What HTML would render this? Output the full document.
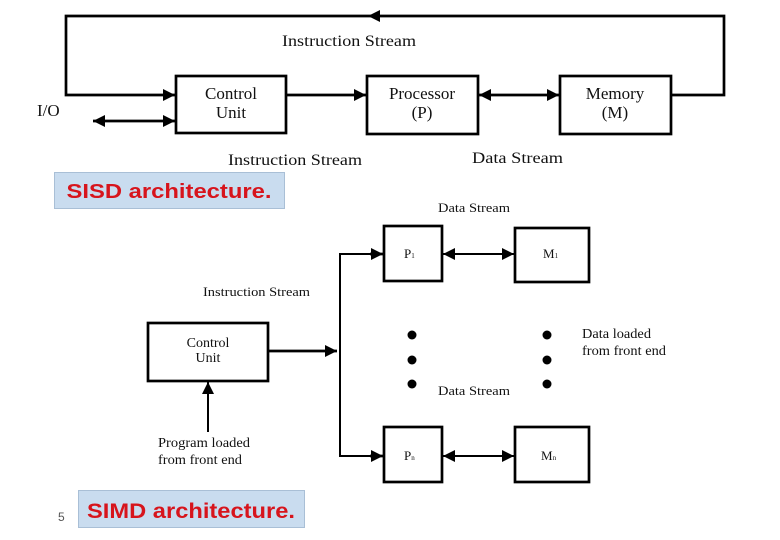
<!DOCTYPE html>
<html><head><meta charset="utf-8"><style>
html,body{margin:0;padding:0;background:#fff;}
svg{display:block;}
.t{font-family:"Liberation Serif",serif;fill:#111;}
.r{font-family:"Liberation Sans",sans-serif;font-weight:bold;fill:#d7141c;}
</style></head><body>
<svg width="780" height="540" viewBox="0 0 780 540" xmlns="http://www.w3.org/2000/svg">
<defs>
<marker id="a" viewBox="0 0 10 10" refX="10" refY="5" markerWidth="12" markerHeight="12" markerUnits="userSpaceOnUse" orient="auto-start-reverse">
<path d="M0,0 L10,5 L0,10 z" fill="#000"/></marker>
</defs>
<g stroke="#000" stroke-width="2.7" fill="none">
<!-- SISD -->
<rect x="176" y="76" width="110" height="57"/>
<rect x="367" y="76" width="111" height="58"/>
<rect x="560" y="76" width="111" height="58"/>
<polyline points="671,95 724,95 724,16 66,16 66,95 175,95" marker-end="url(#a)"/>
<line x1="286" y1="95" x2="366" y2="95" marker-end="url(#a)"/>
<line x1="479" y1="95" x2="559" y2="95" marker-start="url(#a)" marker-end="url(#a)"/>
<line x1="93" y1="121" x2="175" y2="121" marker-start="url(#a)" marker-end="url(#a)"/>
<!-- SIMD -->
<rect x="148" y="323" width="120" height="58"/>
<rect x="384" y="226" width="58" height="55"/>
<rect x="515" y="228" width="74" height="54"/>
<rect x="384" y="427" width="58" height="55"/>
<rect x="515" y="427" width="74" height="55"/>
<line x1="268" y1="351" x2="337" y2="351" marker-end="url(#a)"/>
<polyline points="383,254 340,254 340,456 383,456" stroke-width="2"/>
<line x1="370" y1="254" x2="383" y2="254" marker-end="url(#a)"/>
<line x1="370" y1="456" x2="383" y2="456" marker-end="url(#a)"/>
<line x1="443" y1="254" x2="514" y2="254" stroke-width="2" marker-start="url(#a)" marker-end="url(#a)"/>
<line x1="443" y1="456" x2="514" y2="456" stroke-width="2" marker-start="url(#a)" marker-end="url(#a)"/>
<line x1="208" y1="432" x2="208" y2="382" stroke-width="2" marker-end="url(#a)"/>
</g>
<path d="M368,16 L380,10 L380,22 z" fill="#000"/>
<g fill="#000">
<circle cx="412" cy="335" r="4.5"/><circle cx="412" cy="360" r="4.5"/><circle cx="412" cy="384" r="4.5"/>
<circle cx="547" cy="335" r="4.5"/><circle cx="547" cy="360" r="4.5"/><circle cx="547" cy="384" r="4.5"/>
</g>
<g class="t" font-size="16">
<text x="282" y="46" textLength="134" lengthAdjust="spacingAndGlyphs">Instruction Stream</text>
<text x="231" y="99" text-anchor="middle" font-size="17">Control</text>
<text x="231" y="118" text-anchor="middle" font-size="17">Unit</text>
<text x="422" y="99" text-anchor="middle" font-size="17">Processor</text>
<text x="422" y="118" text-anchor="middle" font-size="17">(P)</text>
<text x="615" y="99" text-anchor="middle" font-size="17">Memory</text>
<text x="615" y="118" text-anchor="middle" font-size="17">(M)</text>
<text x="37" y="116" font-size="17">I/O</text>
<text x="228" y="165" textLength="134" lengthAdjust="spacingAndGlyphs">Instruction Stream</text>
<text x="472" y="163" textLength="91" lengthAdjust="spacingAndGlyphs">Data Stream</text>
</g>
<g class="t" font-size="13">
<text x="438" y="212" textLength="72" lengthAdjust="spacingAndGlyphs">Data Stream</text>
<text x="203" y="296" textLength="107" lengthAdjust="spacingAndGlyphs">Instruction Stream</text>
<text x="208" y="347" text-anchor="middle" font-size="14">Control</text>
<text x="208" y="362" text-anchor="middle" font-size="14">Unit</text>
<text x="404" y="258">P<tspan font-size="7">1</tspan></text>
<text x="543" y="258">M<tspan font-size="7">1</tspan></text>
<text x="404" y="460">P<tspan font-size="7">n</tspan></text>
<text x="541" y="460">M<tspan font-size="7">n</tspan></text>
<text x="438" y="395" textLength="72" lengthAdjust="spacingAndGlyphs">Data Stream</text>
<text x="582" y="338" font-size="14" textLength="69" lengthAdjust="spacingAndGlyphs">Data loaded</text>
<text x="582" y="355" font-size="14" textLength="84" lengthAdjust="spacingAndGlyphs">from front end</text>
<text x="158" y="447" font-size="14" textLength="92" lengthAdjust="spacingAndGlyphs">Program loaded</text>
<text x="158" y="464" font-size="14" textLength="84" lengthAdjust="spacingAndGlyphs">from front end</text>
</g>
<rect x="54.5" y="172.5" width="230" height="36" fill="#c9dcef" stroke="#a9bfd6"/>
<text class="r" x="169" y="198" font-size="20" text-anchor="middle" textLength="205" lengthAdjust="spacingAndGlyphs">SISD architecture.</text>
<rect x="78.5" y="490.5" width="226" height="37" fill="#c9dcef" stroke="#a9bfd6"/>
<text class="r" x="191" y="518" font-size="21" text-anchor="middle" textLength="208" lengthAdjust="spacingAndGlyphs">SIMD architecture.</text>
<text x="58" y="521" font-family="Liberation Sans,sans-serif" font-size="12" fill="#555">5</text>
</svg>
</body></html>
